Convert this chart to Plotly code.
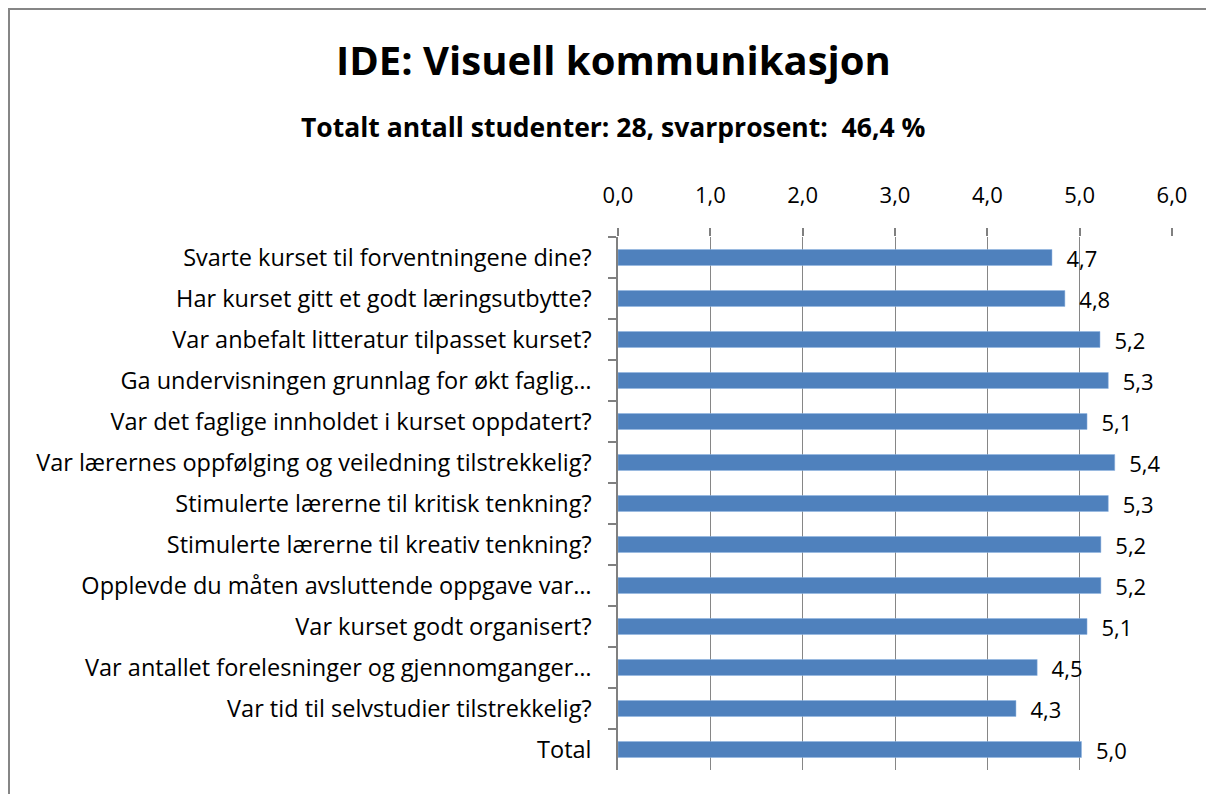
import plotly.graph_objects as go

categories = [
    "Svarte kurset til forventningene dine?",
    "Har kurset gitt et godt læringsutbytte?",
    "Var anbefalt litteratur tilpasset kurset?",
    "Ga undervisningen grunnlag for økt faglig…",
    "Var det faglige innholdet i kurset oppdatert?",
    "Var lærernes oppfølging og veiledning tilstrekkelig?",
    "Stimulerte lærerne til kritisk tenkning?",
    "Stimulerte lærerne til kreativ tenkning?",
    "Opplevde du måten avsluttende oppgave var…",
    "Var kurset godt organisert?",
    "Var antallet forelesninger og gjennomganger…",
    "Var tid til selvstudier tilstrekkelig?",
    "Total",
]
values = [4.70, 4.84, 5.22, 5.31, 5.08, 5.38, 5.31, 5.23, 5.23, 5.08, 4.54, 4.31, 5.02]
x_ticks = [0, 1, 2, 3, 4, 5, 6]

title_text = "IDE: Visuell kommunikasjon"
subtitle_text = "Totalt antall studenter: 28, svarprosent:  46,4 %"

FONT = "Open Sans"
OFF = 8  # default page body margin
W, H = 1214 - OFF, 794 - OFF
L, T = 618 - OFF, 237 - OFF
R = W - (1172 - OFF)
B = H - (770 - OFF)
pw, ph = W - L - R, H - T - B

def px_x(p):
    return (p - OFF - L) / pw

def px_y(p):
    return (H - B - (p - OFF)) / ph

fig = go.Figure(go.Bar(
    y=categories,
    x=values,
    orientation="h",
    marker=dict(color="#4F81BD", line=dict(color="#8EB4E3", width=0.5)),
    texttemplate="\u00a0\u00a0%{x:.1f}",
    textposition="outside",
    constraintext="none",
    textfont=dict(family=FONT, size=22, color="#000000"),
    cliponaxis=False,
))

fig.update_layout(
    width=W, height=H,
    margin=dict(l=L, r=R, t=T, b=B, autoexpand=False),
    paper_bgcolor="white",
    plot_bgcolor="white",
    separators=",.",
    bargap=0.61,
    showlegend=False,
    font=dict(family=FONT, size=22, color="#000000"),
    xaxis=dict(
        side="top",
        range=[0, 6],
        tickvals=x_ticks,
        tickformat=".1f",
        showgrid=True,
        gridcolor="#868686",
        gridwidth=1,
        zeroline=False,
        showline=False,
        ticks="outside",
        ticklen=8,
        tickwidth=1.5,
        tickcolor="#808080",
        ticklabelstandoff=16,
        tickfont=dict(family=FONT, size=22),
    ),
    yaxis=dict(
        autorange="reversed",
        showline=True,
        linecolor="#808080",
        linewidth=1.5,
        ticks="outside",
        ticklen=8,
        tickwidth=1.5,
        tickcolor="#808080",
        tickson="boundaries",
        ticklabelstandoff=20,
        showgrid=False,
        tickfont=dict(family=FONT, size=23.5),
    ),
    shapes=[dict(
        type="rect", xref="paper", yref="paper",
        x0=px_x(9), x1=px_x(1300), y0=px_y(900), y1=px_y(9),
        line=dict(color="#868686", width=2), fillcolor="rgba(0,0,0,0)",
        layer="below",
    )],
    annotations=[
        dict(text="<b>" + title_text + "</b>", xref="paper", yref="paper",
             x=px_x(613), y=px_y(60), xanchor="center", yanchor="middle",
             showarrow=False, font=dict(family=FONT, size=40, color="#000000")),
        dict(text="<b>" + subtitle_text + "</b>", xref="paper", yref="paper",
             x=px_x(613), y=px_y(127), xanchor="center", yanchor="middle",
             showarrow=False, font=dict(family=FONT, size=26.5, color="#000000")),
    ],
)

fig.write_html("out.html")
